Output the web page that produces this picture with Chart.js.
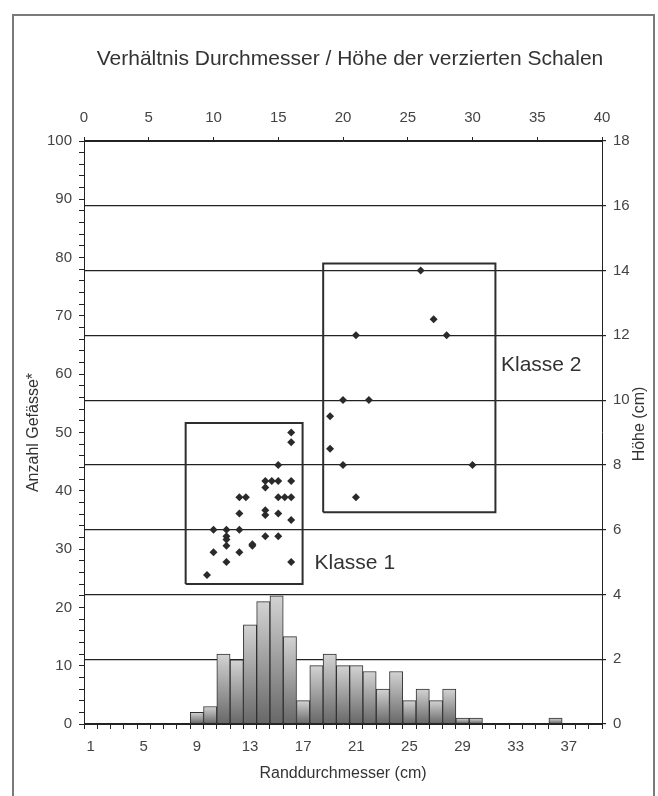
<!DOCTYPE html>
<html lang="de">
<head>
<meta charset="utf-8">
<title>Verhältnis Durchmesser / Höhe der verzierten Schalen</title>
<script src="https://cdn.jsdelivr.net/npm/chart.js@4.4.1/dist/chart.umd.min.js"></script>
<style>
    html, body { margin: 0; padding: 0; background: #fff; }
    #wrap { position: relative; width: 658px; height: 796px; overflow: hidden; }
    #frame { position: absolute; left: 12px; top: 14px; width: 643px; height: 800px; box-sizing: border-box;
             border: 2px solid #7a7a7a; border-bottom: none; }
    canvas { position: absolute; left: 0; top: 0; }
</style>
</head>
<body>
<div id="wrap">
    <div id="frame"></div>
    <canvas id="chart" width="658" height="796"></canvas>
</div>
<script>
// Histogramm: Randdurchmesser (cm) -> Anzahl Gefässe
const durchmesser = ['1', '2', '3', '4', '5', '6', '7', '8', '9', '10', '11', '12', '13', '14', '15', '16', '17', '18', '19', '20',
    '21', '22', '23', '24', '25', '26', '27', '28', '29', '30', '31', '32', '33', '34', '35', '36', '37', '38', '39'];
const anzahl = [0, 0, 0, 0, 0, 0, 0, 0, 2, 3, 12, 11, 17, 21, 22, 15, 4, 10, 12, 10,
    10, 9, 6, 9, 4, 6, 4, 6, 1, 1, 0, 0, 0, 0, 0, 1, 0, 0, 0];

// verzierte Schalen: Durchmesser (cm) / Höhe (cm)
const klasse1Durchmesser = [16, 16, 15, 14, 14.5, 15, 16, 14, 12, 12.5, 15, 15.5, 16, 12, 14, 14, 15, 16, 10, 11,
    12, 11, 11, 11, 14, 15, 13, 13, 10, 12, 11, 16, 9.5];
const klasse1Hoehe = [9, 8.7, 8, 7.5, 7.5, 7.5, 7.5, 7.3, 7, 7, 7, 7, 7, 6.5, 6.6, 6.45, 6.5, 6.3, 6, 6,
    6, 5.8, 5.7, 5.5, 5.8, 5.8, 5.5, 5.55, 5.3, 5.3, 5, 5, 4.6];
const klasse2Durchmesser = [26, 27, 21, 28, 20, 22, 19, 19, 20, 30, 21];
const klasse2Hoehe = [14, 12.5, 12, 12, 10, 10, 9.5, 8.5, 8, 8, 7];

// Rahmen der Klassen (in Achsenwerten)
const klassen = [
    { name: 'Klasse 1', x: [7.85, 16.88], y: [4.32, 9.29], label: [17.8, 4.97] },
    { name: 'Klasse 2', x: [18.47, 31.77], y: [6.54, 14.22], label: [32.2, 11.08] }
];

const titel = 'Verhältnis Durchmesser / Höhe der verzierten Schalen';
const FONT = '"Liberation Sans", Arial, Helvetica, sans-serif';
const INK = '#222';

Chart.defaults.font.family = FONT;
Chart.defaults.color = '#444';

function punkte(xs, ys) {
    return xs.map((x, i) => ({ x: x, y: ys[i] }));
}

function rahmen(k) {
    return [
        { x: k.x[0], y: k.y[0] }, { x: k.x[1], y: k.y[0] },
        { x: k.x[1], y: k.y[1] }, { x: k.x[0], y: k.y[1] },
        { x: k.x[0], y: k.y[0] }
    ];
}

function balkenVerlauf(context) {
    const chart = context.chart;
    const yL = chart.scales.yL;
    const v = context.raw;
    if (!yL || context.type !== 'data' || !v) return '#9a9a9a';
    const top = yL.getPixelForValue(v);
    const bottom = yL.getPixelForValue(0);
    const g = chart.ctx.createLinearGradient(0, top, 0, bottom);
    g.addColorStop(0, '#d3d3d3');
    g.addColorStop(1, '#676767');
    return g;
}

const textPlugin = {
    id: 'texte',
    afterDatasetsDraw(chart) {
        const { ctx, scales } = chart;
        ctx.save();
        ctx.fillStyle = '#333';
        ctx.textBaseline = 'middle';
        ctx.textAlign = 'left';
        ctx.font = '21px ' + FONT;
        klassen.forEach(k => {
            ctx.fillText(k.name, scales.xT.getPixelForValue(k.label[0]), scales.yR.getPixelForValue(k.label[1]));
        });
        ctx.restore();
    },
    afterDraw(chart) {
        const ctx = chart.ctx;
        ctx.save();
        ctx.fillStyle = '#333';
        ctx.textAlign = 'center';
        ctx.textBaseline = 'middle';
        ctx.font = '21px ' + FONT;
        ctx.fillText(titel, 350, 59);
        // rechte Achsenbeschriftung, von unten nach oben gelesen
        ctx.translate(640, 424);
        ctx.rotate(-Math.PI / 2);
        ctx.font = '16px ' + FONT;
        ctx.fillText('Höhe (cm)', 0, 0);
        ctx.restore();
    }
};

const tickFont = { size: 15 };

new Chart(document.getElementById('chart').getContext('2d'), {
    type: 'bar',
    data: {
        labels: durchmesser,
        datasets: [
            {
                type: 'scatter',
                data: punkte(klasse1Durchmesser, klasse1Hoehe),
                xAxisID: 'xT',
                yAxisID: 'yR',
                pointStyle: 'rectRot',
                pointRadius: 4,
                backgroundColor: '#2a2a2a',
                borderWidth: 0
            },
            {
                type: 'scatter',
                data: punkte(klasse2Durchmesser, klasse2Hoehe),
                xAxisID: 'xT',
                yAxisID: 'yR',
                pointStyle: 'rectRot',
                pointRadius: 4,
                backgroundColor: '#2a2a2a',
                borderWidth: 0
            },
            ...klassen.map(k => ({
                type: 'line',
                data: rahmen(k),
                xAxisID: 'xT',
                yAxisID: 'yR',
                borderColor: '#2e2e2e',
                borderWidth: 2,
                pointRadius: 0,
                fill: false,
                tension: 0
            })),
            {
                type: 'bar',
                data: anzahl.map(v => v || null),
                xAxisID: 'x',
                yAxisID: 'yL',
                grouped: false,
                backgroundColor: balkenVerlauf,
                borderColor: '#303030',
                borderWidth: 1,
                borderSkipped: false,
                barPercentage: 1,
                categoryPercentage: 1
            }
        ]
    },
    options: {
        responsive: false,
        animation: false,
        events: [],
        layout: { padding: { left: 18, right: 8, top: 0, bottom: 0 } },
        plugins: {
            legend: { display: false },
            title: { display: false },
            tooltip: { enabled: false }
        },
        scales: {
            x: {
                type: 'category',
                axis: 'x',
                position: 'bottom',
                offset: true,
                grid: { offset: true, drawOnChartArea: false, tickLength: 5, color: INK },
                border: { color: INK, width: 1 },
                ticks: {
                    autoSkip: false,
                    maxRotation: 0,
                    padding: 9,
                    font: tickFont,
                    callback: function (v, i) { return i % 4 === 0 ? this.getLabelForValue(v) : ''; }
                },
                title: { display: true, text: 'Randdurchmesser (cm)', color: '#333', font: { size: 16 }, padding: { top: 0, bottom: 13 } },
                afterFit: s => { s.height = 72; }
            },
            xT: {
                type: 'linear',
                axis: 'x',
                position: 'top',
                min: 0,
                max: 40,
                offset: false,
                grid: { offset: false, drawOnChartArea: false, tickLength: 4, color: INK },
                border: { color: INK, width: 1 },
                ticks: { stepSize: 5, padding: 10, font: tickFont },
                afterFit: s => { s.height = 141; }
            },
            yL: {
                type: 'linear',
                axis: 'y',
                position: 'left',
                min: 0,
                max: 100,
                grid: { drawOnChartArea: false, tickLength: 5, color: INK },
                border: { color: INK, width: 1 },
                ticks: { stepSize: 2, autoSkip: false, padding: 7, font: tickFont, callback: v => (v % 10 === 0 ? v : '') },
                title: { display: true, text: 'Anzahl Gefässe*', color: '#333', font: { size: 16 }, padding: { top: 6, bottom: 0 } },
                afterFit: s => { s.width = 66; }
            },
            yR: {
                type: 'linear',
                axis: 'y',
                position: 'right',
                min: 0,
                max: 18,
                grid: { drawOnChartArea: true, tickLength: 4, color: INK, lineWidth: 1.2 },
                border: { color: INK, width: 1 },
                ticks: { stepSize: 2, padding: 7, font: tickFont },
                afterFit: s => { s.width = 48; }
            }
        }
    },
    plugins: [textPlugin]
});
</script>
</body>
</html>
